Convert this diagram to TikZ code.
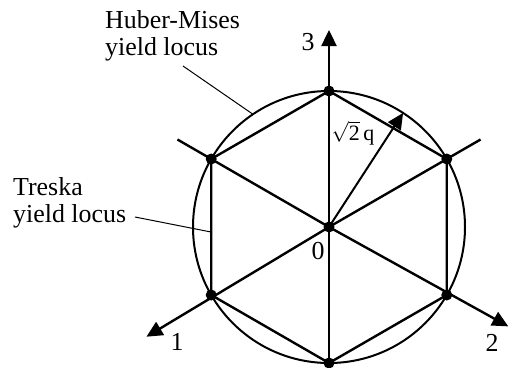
\documentclass[tikz,border=0pt]{standalone}
\usepackage{fontspec}
\setmainfont{Liberation Serif}
\usetikzlibrary{arrows.meta}

\begin{document}
\begin{tikzpicture}[x=1bp, y=1bp, every node/.style={font=\fontsize{26}{27.5}\selectfont, inner sep=0pt}, >={Triangle[length=16bp, width=15bp]}, thk/.style={line width=2.4bp}, dot/.style={circle, fill, minimum size=11bp}]
	\useasboundingbox (-329,-140) rectangle (179,227);
	\coordinate (O) at (0,0);
	\foreach \n/\a in {t/90, ur/30, lr/-30, b/-90, ll/210, ul/150}
		\coordinate (\n) at (\a:136);
	\coordinate (e5) at (150:175);
	\coordinate (e6) at (30:175);
	\coordinate (a1) at (211:213);
	\coordinate (a2) at (331:205);
	\coordinate (a3) at (90:197);
	\coordinate (r) at (57:136);
	\draw[line width=2bp] (O) circle (136);
	\draw[thk] (t) -- (ur) -- (lr) -- (b) -- (ll) -- (ul) -- cycle;
	\draw[thk] (e5) -- (O) -- (e6);
	\draw[thk] (O) -- (b);
	\draw[thk, ->] (O) -- (a1);
	\draw[thk, ->] (O) -- (a2);
	\draw[thk, ->] (O) -- (a3);
	\draw[line width=2bp, ->] (O) -- (r);
	\foreach \n in {O, t, ur, lr, b, ll, ul}
		\node[dot] (d\n) at (\n) {};
	\node (n3) at (-21,185) {3};
	\node (n1) at (-152,-115) {1};
	\node (n2) at (163,-116) {2};
	\node (n0) at (-11,-24) {0};
	\node[font=\fontsize{22}{24}\selectfont] (rq) at (24,94) {$\sqrt{\mbox{2}}$\,q};
	\node[align=left, anchor=north west] (hm) at (-224,217) {Huber-Mises\\yield locus};
	\node[align=left, anchor=north west] (tr) at (-316,50) {Treska\\yield locus};
	\coordinate (hm0) at (-146,161);
	\coordinate (hm1) at (124:136);
	\coordinate (tr0) at (-194,10);
	\coordinate (tr1) at (-118,-5);
	\draw[line width=1bp] (hm0) -- (hm1);
	\draw[line width=1bp] (tr0) -- (tr1);
\end{tikzpicture}
\end{document}
